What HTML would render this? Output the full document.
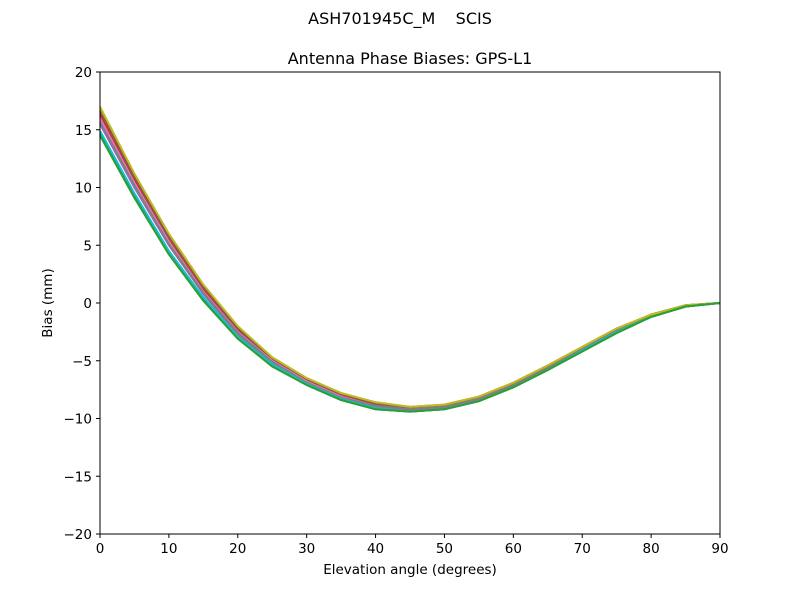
<!DOCTYPE html>
<html><head><meta charset="utf-8"><style>
body{margin:0;background:#fff;}
svg text{font-family:"DejaVu Sans","Liberation Sans",sans-serif;fill:#000;}
</style></head><body>
<svg id="chart" width="800" height="600" xmlns="http://www.w3.org/2000/svg">
<rect width="800" height="600" fill="#fff"/>
<text x="400" y="24" text-anchor="middle" font-size="16" xml:space="preserve">ASH701945C_M    SCIS</text>
<text x="410" y="64" text-anchor="middle" font-size="16">Antenna Phase Biases: GPS-L1</text>
<g id="lines"></g>
<rect x="100" y="72" width="620" height="462" fill="none" stroke="#000" stroke-width="1"/>
<g id="axes"></g>
<text x="410" y="574" text-anchor="middle" font-size="13.5">Elevation angle (degrees)</text>
<text transform="translate(52,303) rotate(-90)" text-anchor="middle" font-size="13.5">Bias (mm)</text>
</svg>
<script>
const elevations=[0,5,10,15,20,25,30,35,40,45,50,55,60,65,70,75,80,85,90];
const xTicks=[0,10,20,30,40,50,60,70,80,90];
const yTicks=[-20,-15,-10,-5,0,5,10,15,20];
const colors=["#1f77b4","#ff7f0e","#2ca02c","#d62728","#9467bd","#8c564b","#e377c2","#7f7f7f","#bcbd22","#17becf"];
const s0=[14.6,9.2,4.3,0.3,-3.0,-5.4,-7.1,-8.4,-9.2,-9.4,-9.2,-8.5,-7.3,-5.8,-4.2,-2.6,-1.2,-0.3,0];
const s1=[16.8,11.1,5.9,1.5,-2.1,-4.7,-6.5,-7.8,-8.6,-9.0,-8.8,-8.1,-6.9,-5.4,-3.8,-2.2,-1.0,-0.2,0];
const s2=[14.5,9.1,4.2,0.2,-3.1,-5.5,-7.1,-8.4,-9.2,-9.4,-9.2,-8.5,-7.3,-5.8,-4.2,-2.6,-1.2,-0.3,0];
const s3=[16.3,10.7,5.6,1.2,-2.3,-4.9,-6.7,-8.0,-8.8,-9.1,-8.9,-8.2,-7.0,-5.5,-3.9,-2.3,-1.0,-0.2,0];
const s4=[15.5,10.0,5.0,0.8,-2.7,-5.2,-6.9,-8.2,-9.0,-9.3,-9.1,-8.4,-7.2,-5.7,-4.1,-2.5,-1.2,-0.3,0];
const s5=[16.6,10.9,5.7,1.4,-2.2,-4.8,-6.6,-7.9,-8.7,-9.1,-8.9,-8.2,-7.0,-5.5,-3.9,-2.3,-1.0,-0.2,0];
const s6=[16.0,10.4,5.3,1.0,-2.5,-5.0,-6.8,-8.1,-8.9,-9.2,-9.0,-8.3,-7.1,-5.6,-4.0,-2.4,-1.1,-0.3,0];
const s7=[15.7,10.2,5.1,0.9,-2.6,-5.1,-6.9,-8.2,-8.9,-9.2,-9.0,-8.3,-7.1,-5.6,-4.0,-2.4,-1.1,-0.3,0];
const s8=[17.0,11.2,6.0,1.6,-2.0,-4.7,-6.5,-7.8,-8.6,-9.0,-8.8,-8.1,-6.9,-5.4,-3.8,-2.2,-1.0,-0.2,0];
const s9=[14.9,9.5,4.5,0.5,-2.9,-5.3,-7.0,-8.3,-9.1,-9.4,-9.2,-8.5,-7.3,-5.8,-4.1,-2.5,-1.2,-0.3,0];
const series=[s0,s1,s3,s4,s5,s6,s7,s8,s9,s2];
const seriesColors=[colors[0],colors[1],colors[3],colors[4],colors[5],colors[6],colors[7],colors[8],colors[9],colors[2]];
const NS="http://www.w3.org/2000/svg";
const xs=v=>100+v/90*620;
const ys=v=>534-(v+20)/40*462;
const lines=document.getElementById('lines');
series.forEach((s,i)=>{
  const p=document.createElementNS(NS,'polyline');
  p.setAttribute('points',s.map((v,j)=>xs(elevations[j]).toFixed(1)+','+ys(v).toFixed(1)).join(' '));
  p.setAttribute('fill','none');p.setAttribute('stroke',seriesColors[i]);p.setAttribute('stroke-width','2');
  
  
  lines.appendChild(p);
});
const axes=document.getElementById('axes');
xTicks.forEach(t=>{
  const l=document.createElementNS(NS,'line');
  l.setAttribute('x1',xs(t));l.setAttribute('x2',xs(t));l.setAttribute('y1',534);l.setAttribute('y2',538);l.setAttribute('stroke','#000');
  
  
  axes.appendChild(l);
  const tx=document.createElementNS(NS,'text');
  tx.setAttribute('x',xs(t));tx.setAttribute('y',553);tx.setAttribute('text-anchor','middle');tx.setAttribute('font-size','13.5');
  tx.textContent=t;
  
  
  axes.appendChild(tx);
});
yTicks.forEach(t=>{
  const l=document.createElementNS(NS,'line');
  l.setAttribute('x1',96);l.setAttribute('x2',100);l.setAttribute('y1',ys(t));l.setAttribute('y2',ys(t));l.setAttribute('stroke','#000');
  
  
  axes.appendChild(l);
  const tx=document.createElementNS(NS,'text');
  tx.setAttribute('x',92);tx.setAttribute('y',ys(t)+5);tx.setAttribute('text-anchor','end');tx.setAttribute('font-size','13.5');
  tx.textContent=t<0?'\u2212'+Math.abs(t):String(t);
  
  
  axes.appendChild(tx);
});
</script>
</body></html>
